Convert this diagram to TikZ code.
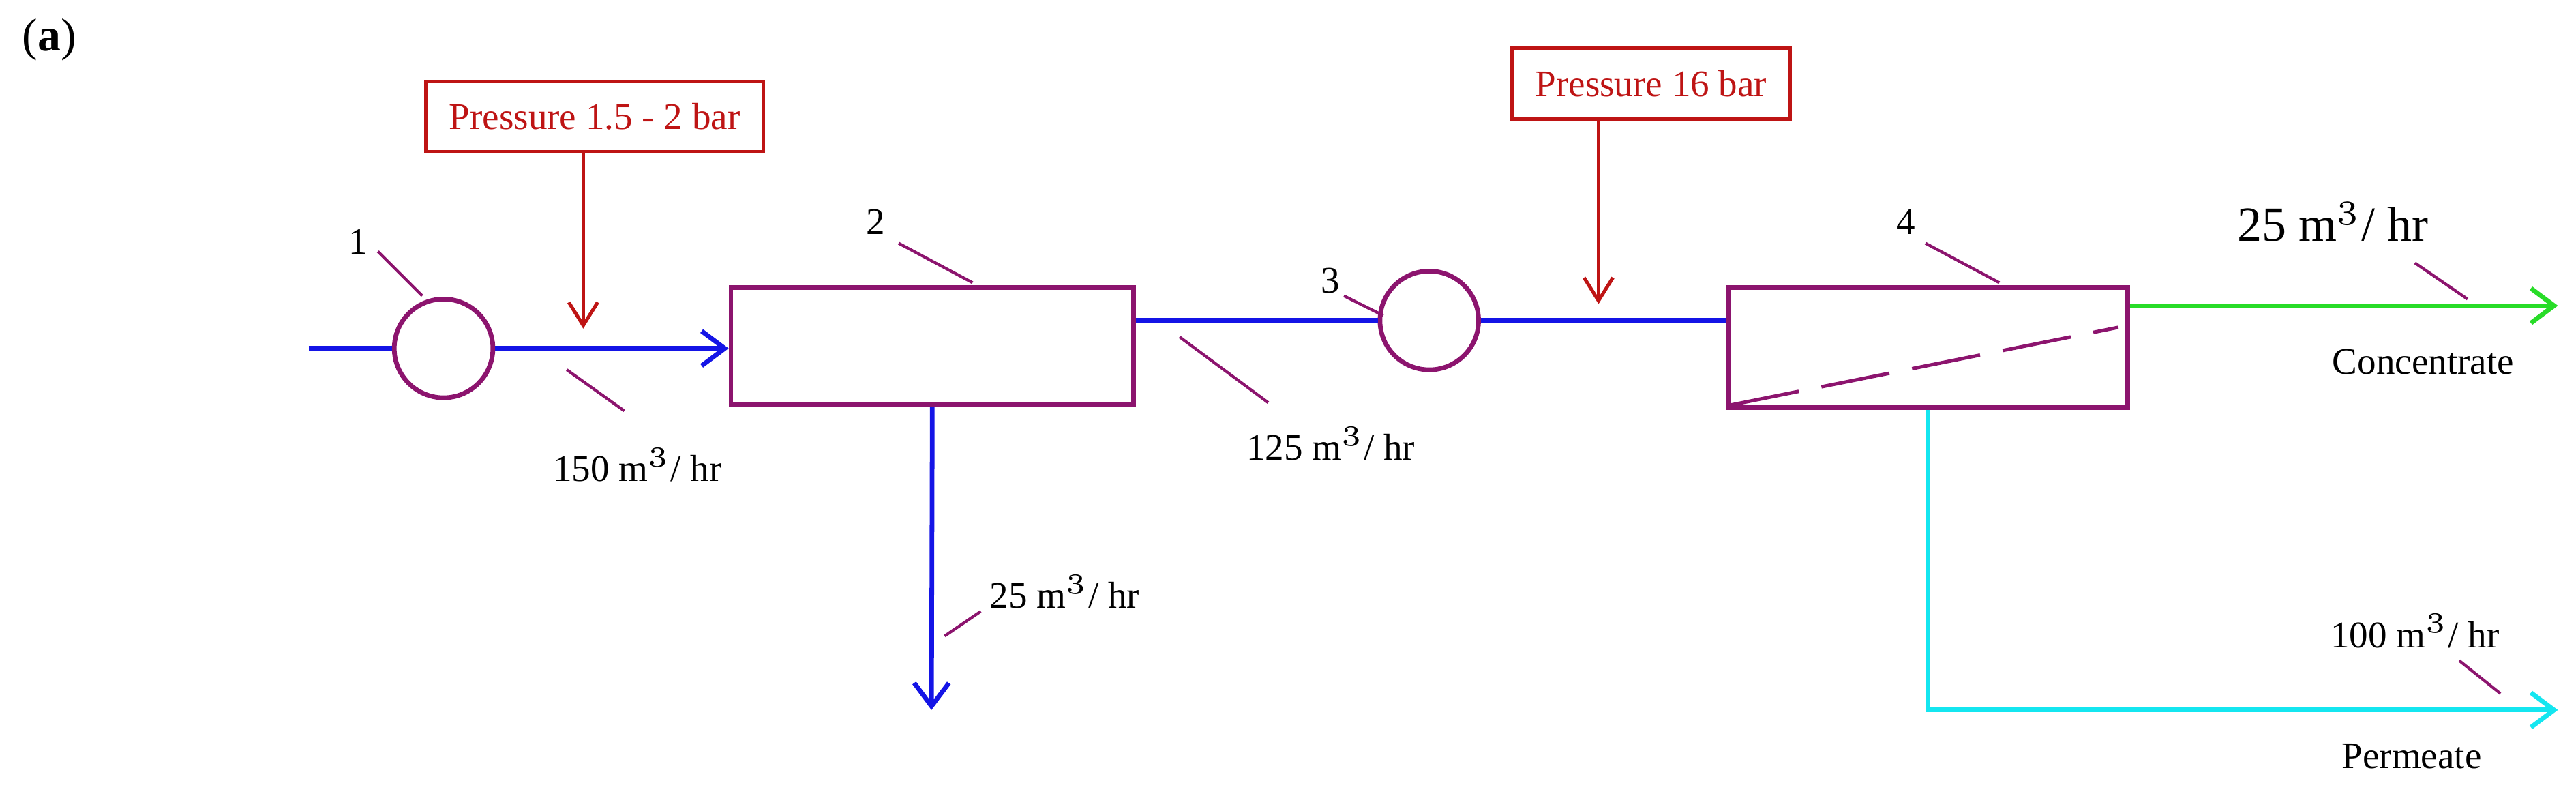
\documentclass[tikz,border=0pt]{standalone}
\usepackage{fontspec}
\setmainfont{Liberation Serif}
\usetikzlibrary{arrows.meta}
\definecolor{pur}{RGB}{140,20,110}
\definecolor{rd}{RGB}{190,20,20}
\definecolor{bl}{RGB}{20,20,230}
\definecolor{gr}{RGB}{40,220,40}
\definecolor{cy}{RGB}{20,230,240}
\begin{document}
\begin{tikzpicture}[x=0.01cm,y=-0.01cm,
  box/.style={draw=pur,line width=0.8pt,inner sep=0},
  pbox/.style={draw=rd,line width=0.6pt,text=rd,font=\fontsize{6.5}{7}\selectfont,minimum height=0.43cm,inner xsep=4pt},
  pump/.style={draw=pur,line width=0.8pt,circle,minimum size=0.6cm,inner sep=0},
  tick/.style={draw=pur,line width=0.5pt},
  lab/.style={font=\fontsize{6.5}{7}\selectfont},
  flow/.style={line width=0.8pt,-{Straight Barb[length=4pt,width=6pt]}},
  parr/.style={draw=rd,line width=0.6pt,-{Straight Barb[length=4pt,width=5pt]}}]
\useasboundingbox (0,0) rectangle (1568,483);
\node[font=\fontsize{8}{9}\selectfont] (a) at (30,24) {(\textbf{a})};
% equipment
\node[pump] (p1) at (270,212) {};
\node[box,minimum width=2.45cm,minimum height=0.71cm] (b2) at (567.5,210.5) {};
\node[pump] (p3) at (870,195) {};
\node[box,minimum width=2.43cm,minimum height=0.73cm] (b4) at (1173.5,211.5) {};
\draw[pur,line width=0.6pt,dash pattern=on 12pt off 4pt] (b4.south west)++(3,-3) coordinate (d1) -- ([xshift=-2pt,yshift=3.5pt]b4.east) coordinate (d2);
% pressure boxes
\node[pbox] (pb1) at (362,71) {Pressure 1.5 - 2 bar};
\node[pbox] (pb2) at (1005,51) {Pressure 16 bar};
\coordinate (t1) at (355,200);
\coordinate (t2) at (973,185);
\draw[parr] (pb1.south -| t1) -- (t1);
\draw[parr] (pb2.south -| t2) -- (t2);
% flows
\coordinate (in) at (188,212);
\draw[bl,line width=0.8pt] (in) -- (p1);
\draw[bl,flow] (p1) -- (b2.west |- p1);
\draw[bl,line width=0.8pt] (b2.east |- p3) -- (p3);
\draw[bl,line width=0.8pt] (p3) -- (b4.west |- p3);
\coordinate (o2) at (567,432);
\draw[bl,flow] (b2.south) -- (o2);
\coordinate (conc) at (1557,186);
\draw[gr,flow] (b4.east |- conc) -- (conc);
\coordinate (perm) at (1557,432);
\draw[cy,flow] (b4.south) -- (b4.south |- perm) -- (perm);
% labels and ticks
\node[lab] (l1) at (218,147) {1};
\draw[tick] (230,153) -- (257,180);
\node[lab] (l2) at (533,135) {2};
\draw[tick] (547,148) -- (592,172);
\node[lab] (l3) at (810,171) {3};
\draw[tick] (818,180) -- (842,192);
\node[lab] (l4) at (1160,135) {4};
\draw[tick] (1172,148) -- (1217,172);
\node[lab] (f1) at (388,283) {150 m$^3$/ hr};
\draw[tick] (345,225) -- (380,250);
\node[lab] (f2) at (810,270) {125 m$^3$/ hr};
\draw[tick] (718,205) -- (772,245);
\node[lab] (f3) at (648,360) {25 m$^3$/ hr};
\draw[tick] (575,387) -- (597,372);
\node[font=\fontsize{8.5}{9}\selectfont] (f4) at (1420,135) {25 m$^3$/ hr};
\draw[tick] (1470,160) -- (1502,182);
\node[lab] (c) at (1475,220) {Concentrate};
\node[lab] (f5) at (1470,384) {100 m$^3$/ hr};
\draw[tick] (1497,402) -- (1522,422);
\node[lab] (pm) at (1468,460) {Permeate};
\end{tikzpicture}
\end{document}
